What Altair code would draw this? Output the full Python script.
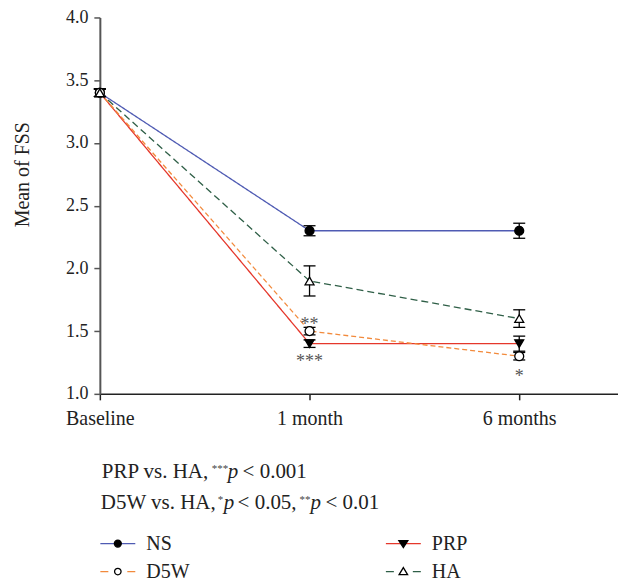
import altair as alt
import pandas as pd

# ---------------- data ----------------
groups = ["NS", "PRP", "D5W", "HA"]
times = [0, 1, 2]
time_labels = ["Baseline", "1 month", "6 months"]

ns_mean = [3.4, 2.3, 2.3]
ns_err = [0.03, 0.04, 0.06]
prp_mean = [3.4, 1.4, 1.4]
prp_err = [0.03, 0.03, 0.06]
d5w_mean = [3.4, 1.5, 1.3]
d5w_err = [0.03, 0.03, 0.03]
ha_mean = [3.4, 1.9, 1.6]
ha_err = [0.03, 0.12, 0.07]

y_ticks = [1.0, 1.5, 2.0, 2.5, 3.0, 3.5, 4.0]

# significance marks in the plot
ann_text = ["**", "***", "*"]
ann_time = [1, 1, 2]
ann_y = [1.55, 1.25, 1.135]

# footnote text pieces: (text, kind, page x, page baseline y)
note_parts = [
    ("PRP vs. HA,", "normal", 102, 478),
    ("***", "sup", 212, 478),
    ("p", "italic", 228, 478),
    ("< 0.001", "normal", 243, 478),
    ("D5W vs. HA,", "normal", 101, 509),
    ("*", "sup", 218, 509),
    ("p", "italic", 224, 509),
    ("< 0.05,", "normal", 238, 509),
    ("**", "sup", 300, 509),
    ("p", "italic", 311, 509),
    ("< 0.01", "normal", 326, 509),
]

# ---------------- styles ----------------
line_colors = ["#4f5bb3", "#e5372b", "#f28a3c", "#2f5f47"]
line_dashes = [[1, 0], [1, 0], [5, 3], [7, 4]]
marker_shapes = ["circle", "triangle-down", "circle", "triangle-up"]
marker_fills = ["black", "black", "white", "white"]

# legend symbol paths (unit = 5 px for size 100)
leg_line_paths = [
    "M-3.5,0L3.5,0",
    "M-3.5,0L3.5,0",
    "M-3.5,0L-1.9,0M1.9,0L3.5,0",
    "M-3.5,0L-1.9,0M1.9,0L3.5,0",
]
pad = "M-3.5,0M3.5,0"
leg_marker_paths = [
    pad + "M0.7,0A0.7,0.7,0,1,1,-0.7,0A0.7,0.7,0,1,1,0.7,0Z",
    pad + "M-0.9,-0.6L0.9,-0.6L0,0.8Z",
    pad + "M0.65,0A0.65,0.65,0,1,1,-0.65,0A0.65,0.65,0,1,1,0.65,0Z",
    pad + "M0,-0.8L0.85,0.6L-0.85,0.6Z",
]

FONT = "Liberation Serif"
X0, Y0 = 100, 17  # plot origin on the page
W, H = 519, 377

# ---------------- tables ----------------
means = {"NS": ns_mean, "PRP": prp_mean, "D5W": d5w_mean, "HA": ha_mean}
errs = {"NS": ns_err, "PRP": prp_err, "D5W": d5w_err, "HA": ha_err}
rows = []
for g in groups:
    for t, m, e in zip(times, means[g], errs[g]):
        rows.append({"group": g, "time": t, "mean": m, "lo": m - e, "hi": m + e})
df = pd.DataFrame(rows)
ann_df = pd.DataFrame({"txt": ann_text, "time": ann_time, "yv": ann_y})
leg_df = pd.DataFrame({"group": groups})

label_expr = "[" + ",".join("'%s'" % s for s in time_labels) + "][datum.value]"

x_scale = alt.Scale(domain=[0, 2.471], nice=False, zero=False)
y_scale = alt.Scale(domain=[1, 4], nice=False, zero=False)

x_axis = alt.Axis(
    values=times, labelExpr=label_expr, grid=False, labelFlush=False,
    labelFont=FONT, labelFontSize=20, labelColor="#222",
    tickSize=6, tickColor="#222", tickWidth=1.5,
    domainColor="#222", domainWidth=1.5, labelPadding=9,
)
y_axis = alt.Axis(
    values=y_ticks, format=".1f", grid=False, labelFlush=False,
    labelFont=FONT, labelFontSize=18, labelColor="#222",
    tickSize=6, tickColor="#555", tickWidth=1.5,
    domainColor="#555", domainWidth=2, labelPadding=6,
    title="Mean of FSS", titleFont=FONT, titleFontSize=20,
    titleFontWeight="normal", titleColor="#222",
    titleX=-77, titleY=157, titleAlign="center", titleBaseline="middle",
)


def X(field):
    return alt.X(field, scale=x_scale, axis=x_axis, title=None)


def Y(field):
    return alt.Y(field, scale=y_scale, axis=y_axis, title="Mean of FSS")


base = alt.Chart(df)

lines = base.mark_line(strokeWidth=1.3).encode(
    x=X("time:Q"),
    y=Y("mean:Q"),
    color=alt.Color("group:N", scale=alt.Scale(domain=groups, range=line_colors), legend=None),
    strokeDash=alt.StrokeDash("group:N", scale=alt.Scale(domain=groups, range=line_dashes), legend=None),
    detail="group:N",
)

err_rules = base.mark_rule(color="black", strokeWidth=1.3).encode(
    x=X("time:Q"),
    y=Y("lo:Q"),
    y2="hi:Q",
)

caps = base.transform_fold(["lo", "hi"], as_=["k", "v"]).mark_tick(
    orient="horizontal", size=12, thickness=1.3, color="black", opacity=1
).encode(
    x=X("time:Q"),
    y=Y("v:Q"),
)

points = base.mark_point(filled=True, stroke="black", strokeWidth=1.3, size=80, opacity=1).encode(
    x=X("time:Q"),
    y=Y("mean:Q"),
    shape=alt.Shape("group:N", scale=alt.Scale(domain=groups, range=marker_shapes), legend=None),
    fill=alt.Fill("group:N", scale=alt.Scale(domain=groups, range=marker_fills), legend=None),
)

ann = alt.Chart(ann_df).mark_text(font=FONT, fontSize=18, color="#555", baseline="middle").encode(
    x=X("time:Q"),
    y=Y("yv:Q"),
    text="txt:N",
)

note_layers = []
for txt, kind, px, py in note_parts:
    props = dict(font=FONT, fontSize=21, color="#222", align="left", baseline="alphabetic")
    dy = 0
    if kind == "italic":
        props["fontStyle"] = "italic"
    if kind == "sup":
        props["fontSize"] = 11
        props["color"] = "#444"
        dy = -6
    note_layers.append(
        alt.Chart(pd.DataFrame({"t": [txt]})).mark_text(**props).encode(
            text="t:N", x=alt.value(px - X0), y=alt.value(py - Y0 + dy)
        )
    )


def leg(label_opacity):
    return alt.Legend(
        orient="none", direction="horizontal", legendX=8, legendY=517,
        columns=2, columnPadding=193,
        rowPadding=8, labelOffset=18.5, labelFont=FONT, labelFontSize=20,
        labelColor="#222", labelOpacity=label_opacity, padding=0, title=None,
        symbolSize=100, symbolStrokeWidth=1.3,
    )


leg_lines = alt.Chart(leg_df).transform_filter("false").mark_point(
    filled=False, size=100, strokeWidth=1.3, opacity=1
).encode(
    shape=alt.Shape("group:N", scale=alt.Scale(domain=groups, range=leg_line_paths), legend=leg(1)),
    color=alt.Color("group:N", scale=alt.Scale(domain=groups, range=line_colors), legend=leg(1)),
)

leg_marks = alt.Chart(leg_df).transform_filter("false").mark_point(
    filled=True, stroke="black", size=100, strokeWidth=1.3, opacity=1
).encode(
    shape=alt.Shape("group:N", scale=alt.Scale(domain=groups, range=leg_marker_paths), legend=leg(0)),
    fill=alt.Fill("group:N", scale=alt.Scale(domain=groups, range=marker_fills), legend=leg(0)),
)

chart = alt.layer(
    lines, err_rules, caps, points, ann, *note_layers, leg_lines, leg_marks
).resolve_scale(
    color="independent", shape="independent", fill="independent", strokeDash="independent"
).resolve_legend(
    color="independent", shape="independent", fill="independent", strokeDash="independent"
).properties(
    width=W, height=H,
    background="white",
    autosize=alt.AutoSizeParams(type="none"),
    padding={"left": 92, "top": 9, "right": 0, "bottom": 198},
).configure_view(stroke=None)

chart.save("out.html", embed_options={"renderer": "svg", "actions": False})
